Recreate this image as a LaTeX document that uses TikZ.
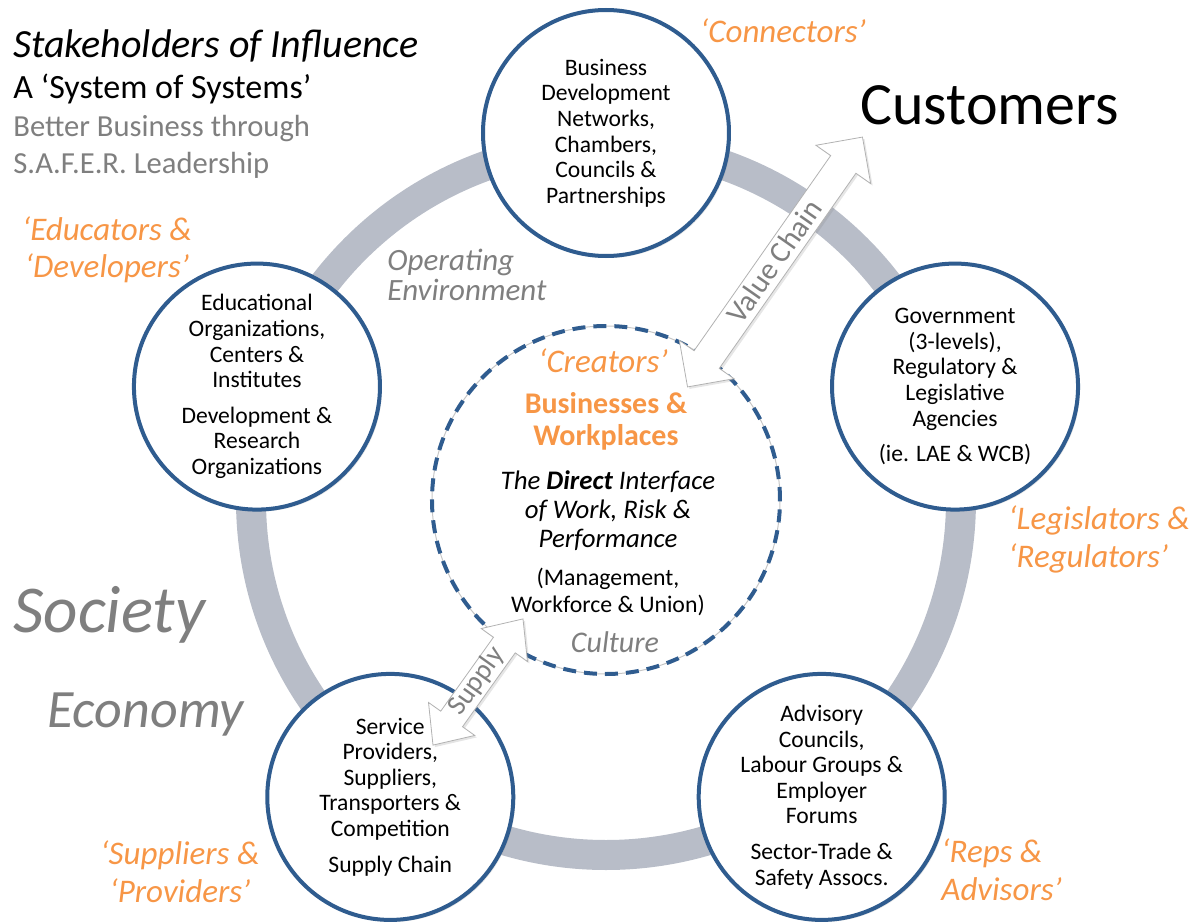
\documentclass[tikz,border=0pt]{standalone}
\usepackage{fontspec}
\setmainfont{Carlito}
\usetikzlibrary{shapes.arrows,shadows}

\definecolor{roleorange}{RGB}{247,150,70}
\definecolor{rimblue}{RGB}{47,92,143}
\definecolor{ringgray}{RGB}{184,189,200}
\definecolor{softgray}{RGB}{127,127,127}

\tikzset{
  stake/.style={circle, draw=rimblue, line width=2pt, fill=white,
    minimum size=123pt, inner sep=0pt, align=center,
    font=\fontsize{11.8}{12.8}\selectfont,
    drop shadow={opacity=0.2, shadow xshift=1pt, shadow yshift=-1pt}},
  role/.style={text=roleorange, inner sep=0pt,
    font=\fontsize{16.5}{19}\selectfont\itshape},
  context/.style={text=softgray, inner sep=0pt},
  flow/.style={double arrow, draw=gray!60, fill=white, text=softgray,
    inner xsep=0pt,
    drop shadow={opacity=0.2, shadow xshift=1pt, shadow yshift=-1pt}},
}

\begin{document}
\begin{tikzpicture}[x=0.5pt,y=0.5pt]
  \def\rp{367}
  \def\rring{355}
  \useasboundingbox (-606,-422) rectangle (594,500);

  % operating environment ring
  \draw[ringgray, line width=15pt] (0,0) circle (\rring);

  % the five stakeholder groups
  \node[stake] (connect) at (90:\rp) {Business\\Development\\Networks,\\Chambers,\\Councils \&\\Partnerships};
  \node[stake] (govern) at (18:\rp) {Government\\(3-levels),\\Regulatory \&\\Legislative\\Agencies\\[5pt](ie. LAE \& WCB)};
  \node[stake] (educate) at (162:\rp) {Educational\\Organizations,\\Centers \&\\Institutes\\[5pt]Development \&\\Research\\Organizations};
  \node[stake] (provide) at (234:\rp) {Service\\Providers,\\Suppliers,\\Transporters \&\\Competition\\[5pt]Supply Chain};
  \node[stake] (advise) at (306:\rp) {Advisory\\Councils,\\Labour Groups \&\\Employer\\Forums\\[5pt]Sector-Trade \&\\Safety Assocs.};

  % businesses and workplaces
  \draw[gray!45, line width=0.5pt] (0,0) circle (174);
  \node[circle, draw=rimblue, line width=2pt, dash pattern=on 6.5pt off 4pt,
        minimum size=174pt, inner sep=0pt] (core) at (0,0) {};
  \node[role, anchor=base] (creators) at (-3,128) {‘Creators’};
  \node[anchor=base, inner sep=0pt, text=roleorange, align=center,
        font=\fontsize{15}{16}\selectfont\bfseries] (business) at (0,55) {Businesses \&\\Workplaces};
  \node[anchor=base, inner sep=0pt, align=center,
        font=\fontsize{13.4}{14.5}\selectfont\itshape] (interface) at (2,-47) {The \textbf{Direct} Interface\\of Work, Risk \&\\Performance};
  \node[anchor=base, inner sep=0pt, align=center,
        font=\fontsize{11.9}{13.5}\selectfont] (workforce) at (2,-112) {(Management,\\Workforce \& Union)};
  \node[context, anchor=base, font=\fontsize{15}{15}\selectfont\itshape] (culture) at (9,-152) {Culture};

  % flows
  \node[flow, rotate=55, font=\fontsize{15}{15}\selectfont,
        minimum height=152.5pt, text height=10pt, text depth=1pt, inner ysep=2pt,
        double arrow head extend=9pt, double arrow tip angle=90] (valuechain) at (169,238) {Value Chain};
  \node[flow, rotate=54.5, font=\fontsize{14}{14}\selectfont,
        minimum height=77.5pt, text height=9pt, text depth=3pt, inner ysep=0.5pt,
        double arrow head extend=7.5pt, double arrow tip angle=83] (supply) at (-128,-182) {Supply};

  % headings
  \node[anchor=base west, inner sep=0pt, font=\fontsize{20}{20}\selectfont\itshape] (title) at (-593,442) {Stakeholders of Influence};
  \node[anchor=base west, inner sep=0pt, font=\fontsize{17}{17}\selectfont] (system) at (-593,401) {A ‘System of Systems’};
  \node[context, anchor=base west, align=left, font=\fontsize{15.3}{18.5}\selectfont] (safer) at (-593,326) {Better Business through\\S.A.F.E.R. Leadership};
  \node[anchor=base west, inner sep=0pt, font=\fontsize{30}{30}\selectfont] (customers) at (254,375) {Customers};

  % roles
  \node[role, anchor=base] (connectors) at (177,457) {‘Connectors’};
  \node[role, anchor=base, align=center] (educators) at (-499,222) {‘Educators \&\\‘Developers’};
  \node[role, anchor=base west, align=left] (legislators) at (402,-67) {‘Legislators \&\\‘Regulators’};
  \node[role, anchor=base west, align=left] (reps) at (335,-400) {‘Reps \&\\Advisors’};
  \node[role, anchor=base, align=center] (suppliers) at (-426,-402) {‘Suppliers \&\\‘Providers’};

  % wider context
  \node[context, anchor=base west, align=left, font=\fontsize{15.5}{15.5}\selectfont\itshape] (operating) at (-219,199) {Operating\\Environment};
  \node[context, anchor=base west, font=\fontsize{33.5}{33.5}\selectfont\itshape] (society) at (-593,-132) {Society};
  \node[context, anchor=base west, font=\fontsize{27}{27}\selectfont\itshape] (economy) at (-559,-227) {Economy};
\end{tikzpicture}
\end{document}
